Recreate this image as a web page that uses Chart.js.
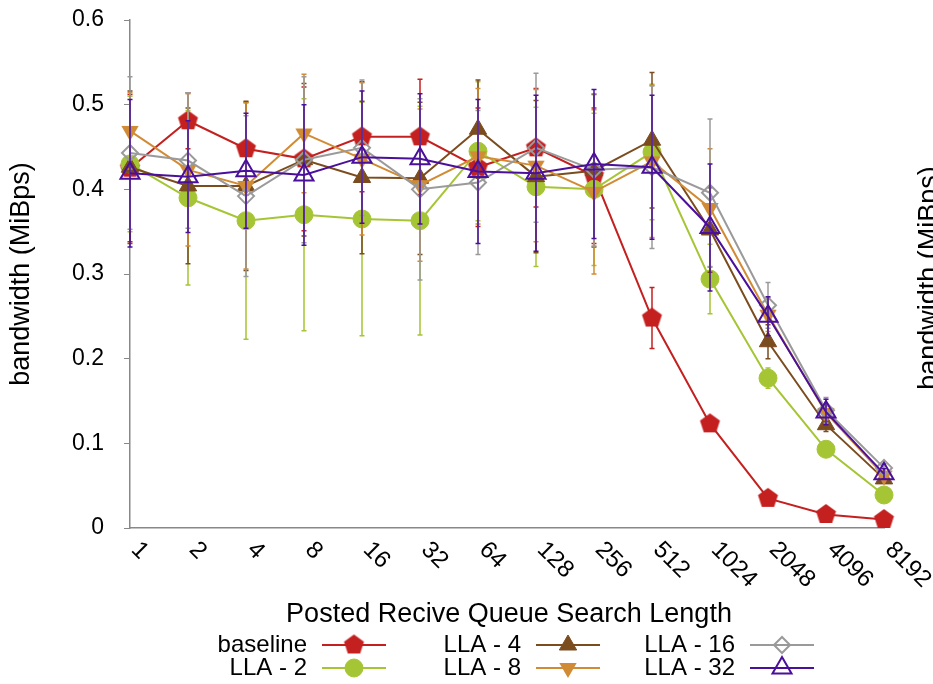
<!DOCTYPE html>
<html>
<head>
<meta charset="utf-8">
<script src="https://cdn.jsdelivr.net/npm/chart.js"></script>
<style>
  body { margin: 0; background: #fff; }
  canvas { display: block; }
</style>
</head>
<body>
<canvas id="bwchart" width="933" height="684"></canvas>
<script>
const searchLengths = ['1', '2', '4', '8', '16', '32', '64', '128', '256', '512', '1024', '2048', '4096', '8192'];
const yTicks = [0, 0.1, 0.2, 0.3, 0.4, 0.5, 0.6];

// mean bandwidth per search length
const baseline = [0.425, 0.481, 0.448, 0.436, 0.462, 0.462, 0.426, 0.449, 0.416, 0.248, 0.123, 0.035, 0.016, 0.010];
const lla2 = [0.430, 0.390, 0.363, 0.370, 0.365, 0.363, 0.445, 0.403, 0.400, 0.444, 0.294, 0.177, 0.093, 0.039];
const lla4 = [0.426, 0.404, 0.404, 0.435, 0.414, 0.413, 0.471, 0.415, 0.422, 0.458, 0.352, 0.220, 0.122, 0.058];
const lla8 = [0.469, 0.423, 0.404, 0.466, 0.436, 0.405, 0.439, 0.428, 0.397, 0.433, 0.378, 0.252, 0.136, 0.062];
const lla16 = [0.443, 0.434, 0.392, 0.435, 0.449, 0.400, 0.408, 0.449, 0.423, 0.426, 0.396, 0.263, 0.139, 0.071];
const lla32 = [0.419, 0.415, 0.422, 0.417, 0.438, 0.436, 0.421, 0.419, 0.430, 0.426, 0.355, 0.250, 0.137, 0.064];

// standard deviation (error bar half height)
const baselineErr = [0.087, 0.033, 0.055, 0.085, 0.065, 0.068, 0.070, 0.070, 0.080, 0.036, 0.006, 0.004, 0.002, 0.002];
const lla2Err = [0.080, 0.103, 0.140, 0.137, 0.138, 0.135, 0.082, 0.094, 0.090, 0.080, 0.041, 0.012, 0.006, 0.004];
const lla4Err = [0.090, 0.092, 0.100, 0.090, 0.090, 0.090, 0.058, 0.090, 0.090, 0.080, 0.050, 0.020, 0.008, 0.004];
const lla8Err = [0.045, 0.090, 0.098, 0.070, 0.090, 0.090, 0.080, 0.090, 0.097, 0.090, 0.070, 0.020, 0.008, 0.004];
const lla16Err = [0.090, 0.080, 0.095, 0.098, 0.080, 0.107, 0.085, 0.088, 0.090, 0.096, 0.087, 0.027, 0.015, 0.005];
const lla32Err = [0.087, 0.066, 0.068, 0.083, 0.078, 0.077, 0.085, 0.092, 0.088, 0.085, 0.075, 0.023, 0.015, 0.006];

const FONT = "'Liberation Sans', Arial, sans-serif";

// chart.js has no pentagon / down triangle, so build them as small canvases
function polygonMarker(color, sides, r, rot) {
  const c = document.createElement('canvas');
  c.width = c.height = Math.ceil(r * 2 + 2);
  const g = c.getContext('2d');
  g.fillStyle = color;
  g.beginPath();
  for (let k = 0; k < sides; k++) {
    const a = rot + k * 2 * Math.PI / sides;
    g.lineTo(c.width / 2 + r * Math.cos(a), c.height / 2 + r * Math.sin(a));
  }
  g.closePath();
  g.fill();
  return c;
}

function series(label, data, errors, color, style, radius, fill, order) {
  return {
    label: label,
    data: data,
    errors: errors,
    borderColor: color,
    backgroundColor: color,
    borderWidth: 2,
    pointStyle: style,
    pointRadius: radius,
    pointBackgroundColor: fill,
    pointBorderColor: color,
    pointBorderWidth: fill === color ? 1 : 2,
    order: order
  };
}

const errorBars = {
  id: 'errorBars',
  afterDatasetDraw(chart, args) {
    const ds = chart.data.datasets[args.index];
    const y = chart.scales.y;
    const ctx = chart.ctx;
    ctx.save();
    ctx.strokeStyle = ds.borderColor;
    ctx.lineWidth = 1.5;
    args.meta.data.forEach((pt, i) => {
      const top = y.getPixelForValue(ds.data[i] + ds.errors[i]);
      const bot = y.getPixelForValue(ds.data[i] - ds.errors[i]);
      ctx.beginPath();
      ctx.moveTo(pt.x, top); ctx.lineTo(pt.x, bot);
      ctx.moveTo(pt.x - 2.5, top); ctx.lineTo(pt.x + 2.5, top);
      ctx.moveTo(pt.x - 2.5, bot); ctx.lineTo(pt.x + 2.5, bot);
      ctx.stroke();
    });
    ctx.restore();
  }
};

const decorations = {
  id: 'decorations',
  afterDraw(chart) {
    const ctx = chart.ctx;
    const x = chart.scales.x;
    const bottom = chart.chartArea.bottom;
    ctx.save();
    ctx.fillStyle = '#000';

    // slanted category labels
    ctx.font = '24px ' + FONT;
    ctx.textAlign = 'left';
    ctx.textBaseline = 'middle';
    searchLengths.forEach((lbl, i) => {
      ctx.save();
      ctx.translate(x.getPixelForValue(i) + 5, bottom + 18);
      ctx.rotate(Math.PI / 4);
      ctx.fillText(lbl, 0, 0);
      ctx.restore();
    });

    // axis title under the labels
    ctx.font = '27px ' + FONT;
    ctx.textAlign = 'center';
    ctx.fillText('Posted Recive Queue Search Length', 509, 615);

    // neighbouring panel's y title peeking in at the right edge
    ctx.save();
    ctx.translate(937, 278);
    ctx.rotate(-Math.PI / 2);
    ctx.textBaseline = 'alphabetic';
    ctx.font = '27px ' + FONT;
    ctx.fillText('bandwidth (MiBps)', 0, 0);
    ctx.restore();

    // legend: label, then line sample with marker
    const cols = [307, 521, 735];
    const rows = [645, 668];
    ctx.font = '24px ' + FONT;
    chart.data.datasets.forEach((ds, i) => {
      const tx = cols[Math.floor(i / 2)];
      const ty = rows[i % 2];
      ctx.fillStyle = '#000';
      ctx.textAlign = 'right';
      ctx.textBaseline = 'middle';
      ctx.fillText(ds.label, tx, ty);
      ctx.strokeStyle = ds.borderColor;
      ctx.lineWidth = 2;
      ctx.beginPath();
      ctx.moveTo(tx + 15, ty);
      ctx.lineTo(tx + 79, ty);
      ctx.stroke();
      ctx.fillStyle = ds.pointBackgroundColor;
      ctx.lineWidth = ds.pointBorderWidth;
      Chart.helpers.drawPoint(ctx, {
        pointStyle: ds.pointStyle,
        radius: ds.pointRadius,
        borderWidth: ds.pointBorderWidth,
        rotation: 0
      }, tx + 47, ty);
    });
    ctx.restore();
  }
};

const red = '#C3201F', green = '#A5C535', brown = '#7A4C1E';
const orange = '#D28B35', gray = '#9A9A9A', purple = '#4A0F9B';
const clear = 'rgba(255,255,255,0)';

const bwChart = new Chart(document.querySelector('#bwchart'), {
  type: 'line',
  data: {
    labels: searchLengths,
    datasets: [
      series('baseline', baseline, baselineErr, red, polygonMarker(red, 5, 10.5, -Math.PI / 2), 10, red, 5),
      series('LLA - 2', lla2, lla2Err, green, 'circle', 9, green, 4),
      series('LLA - 4', lla4, lla4Err, brown, 'triangle', 10, brown, 3),
      series('LLA - 8', lla8, lla8Err, orange, polygonMarker(orange, 3, 10, Math.PI / 2), 10, orange, 2),
      series('LLA - 16', lla16, lla16Err, gray, 'rectRot', 8, clear, 1),
      series('LLA - 32', lla32, lla32Err, purple, 'triangle', 11, clear, 0)
    ]
  },
  options: {
    responsive: false,
    animation: false,
    devicePixelRatio: 1,
    layout: { padding: { top: 20, right: 49, left: 0, bottom: 0 } },
    plugins: {
      legend: { display: false },
      tooltip: { enabled: false }
    },
    scales: {
      x: {
        type: 'category',
        offset: false,
        grid: { display: false },
        border: { color: '#888', width: 1.5 },
        ticks: { display: false },
        afterFit: scale => { scale.height = 156; }
      },
      y: {
        min: 0,
        max: 0.6,
        afterBuildTicks: scale => { scale.ticks = yTicks.map(v => ({ value: v })); },
        grid: { drawOnChartArea: false, drawTicks: true, tickLength: 6, color: '#888' },
        border: { color: '#888', width: 1.5 },
        ticks: { color: '#000', padding: 20, font: { family: FONT, size: 23 } },
        title: {
          display: true,
          text: 'bandwidth (MiBps)',
          color: '#000',
          padding: { top: 5 },
          font: { family: FONT, size: 27 }
        },
        afterFit: scale => {
          scale.width = 130;
          // the wide label gap would otherwise push the plot top down
          scale.paddingTop = 0;
          scale.paddingBottom = 0;
        }
      }
    }
  },
  plugins: [errorBars, decorations]
});
</script>
</body>
</html>
